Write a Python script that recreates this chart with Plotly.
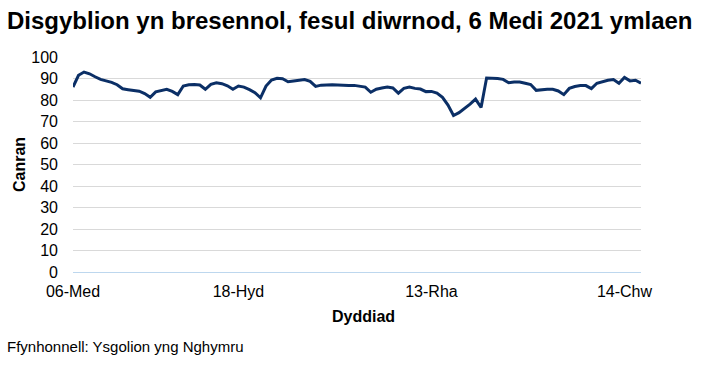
import pandas as pd
import plotly.graph_objects as go

# School days (categories): autumn term, half-term excluded, spring term
term_ranges = [("2021-09-06", "2021-10-22"), ("2021-11-01", "2021-12-20"), ("2022-01-04", "2022-02-17")]
dates = [d.strftime("%Y-%m-%d") for a, b in term_ranges for d in pd.bdate_range(a, b)]

attendance = [
    86.0, 91.5, 93.0, 92.2, 90.8, 89.6, 88.9, 88.2, 87.1, 85.2,
    84.8, 84.6, 84.1, 83.0, 81.3, 83.8, 84.5, 85.0, 84.0, 82.5,
    86.5, 87.1, 87.2, 87.0, 85.0, 87.3, 88.0, 87.6, 86.6, 85.0,
    86.5, 86.0, 84.8, 83.4, 81.0, 86.5, 89.3, 90.1, 89.9, 88.5,
    88.8, 89.3, 89.5, 88.7, 86.3, 86.9, 87.1, 87.1, 87.0, 86.8,
    86.8, 86.8, 86.5, 86.0, 83.6, 85.0, 85.6, 86.0, 85.6, 83.2,
    85.4, 86.0, 85.4, 85.1, 83.9, 84.0, 83.2, 81.2, 77.6, 72.8,
    74.1, 76.0, 78.1, 80.4, 76.5, 90.2, 90.2, 90.0, 89.6, 88.0,
    88.4, 88.4, 87.8, 87.2, 84.5, 84.9, 85.0, 85.0, 84.2, 82.5,
    85.4, 86.3, 86.7, 86.7, 85.3, 87.8, 88.6, 89.2, 89.5, 87.8,
    90.5, 88.9, 89.2, 87.8,
]

tick_dates = ["2021-09-06", "2021-10-18", "2021-12-13", "2022-02-14"]
tick_labels = ["06-Med", "18-Hyd", "13-Rha", "14-Chw"]
y_ticks = list(range(0, 101, 10))

title = "Disgyblion yn bresennol, fesul diwrnod, 6 Medi 2021 ymlaen"
x_title = "Dyddiad"
y_title = "Canran"
source = "Ffynhonnell: Ysgolion yng Nghymru"

FONT = "Arial, Liberation Sans, sans-serif"
W, H = 709, 365
L, R, T, B = 73, 68, 57, 93
pw, ph = W - L - R, H - T - B

def px(xp):
    return (xp - L) / pw

def py(yp):
    return (H - B - yp) / ph

fig = go.Figure()
fig.add_trace(go.Scatter(
    x=dates, y=attendance, mode="lines",
    line=dict(color="#0b2f66", width=3),
    hoverinfo="x+y", showlegend=False,
))

fig.update_layout(
    width=W, height=H,
    margin=dict(l=L, r=R, t=T, b=B, pad=0),
    paper_bgcolor="white", plot_bgcolor="white",
    font=dict(family=FONT, size=16, color="#000000"),
    title=dict(text=f"<b>{title}</b>", xref="container", yref="container",
               x=7 / W, y=1 - 21 / H, xanchor="left", yanchor="middle",
               font=dict(family=FONT, size=24, color="#000000")),
    xaxis=dict(
        type="category", categoryorder="array", categoryarray=dates,
        range=[0, len(dates) - 1],
        tickmode="array", tickvals=tick_dates, ticktext=tick_labels,
        showgrid=False, zeroline=False,
        showline=True, linecolor="#bdd7ee", linewidth=1,
        ticks="", ticklabelstandoff=5,
        tickfont=dict(family=FONT, size=16, color="#000000"),
    ),
    yaxis=dict(
        range=[0, 100], tickmode="array", tickvals=y_ticks,
        showgrid=True, gridcolor="#d9d9d9", gridwidth=1,
        zeroline=False, showline=False,
        ticks="", ticklabelstandoff=14,
        tickfont=dict(family=FONT, size=16, color="#000000"),
    ),
    annotations=[
        dict(text=f"<b>{y_title}</b>", xref="paper", yref="paper",
             x=px(19), y=py(165), textangle=-90, showarrow=False,
             xanchor="center", yanchor="middle",
             font=dict(family=FONT, size=16, color="#000000")),
        dict(text=f"<b>{x_title}</b>", xref="paper", yref="paper",
             x=px(363), y=py(316), showarrow=False,
             xanchor="center", yanchor="middle",
             font=dict(family=FONT, size=16, color="#000000")),
        dict(text=source, xref="paper", yref="paper",
             x=px(5), y=py(346), showarrow=False,
             xanchor="left", yanchor="middle",
             font=dict(family=FONT, size=15, color="#000000")),
    ],
)

fig.write_html("out.html")
